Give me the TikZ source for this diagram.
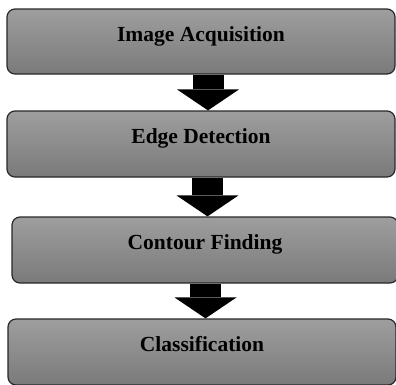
\documentclass[tikz,border=0pt]{standalone}
\usepackage{fontspec}
\setmainfont{Liberation Serif}
\usepackage{xcolor}
\usepackage{tikz}
\usetikzlibrary{arrows.meta, positioning}
\definecolor{boxtop}{RGB}{158, 158, 158}
\definecolor{boxbottom}{RGB}{122, 122, 122}
\definecolor{boxline}{RGB}{40, 40, 40}

\begin{document}
\begin{tikzpicture}[
    x=1pt, y=-1pt,
    stage/.style={rectangle, rounded corners=8pt, draw=boxline, line width=1.2pt, top color=boxtop, bottom color=boxbottom, minimum width=388pt, minimum height=66pt, inner sep=0pt, text height=14pt, text depth=15pt, font=\fontsize{21.5}{24}\selectfont\bfseries},
    blockarrow/.style={line width=31pt, black, -{Triangle[width=62pt, length=21pt, line width=0pt]}}
]
\useasboundingbox (0,0) rectangle (396,384);

% Stages
\node[stage, minimum height=65pt] (acquisition) at (201,41.5) {Image Acquisition};
\node[stage] (edge) at (201,144) {Edge Detection};
\node[stage, minimum width=386pt] (contour) at (205,250) {Contour Finding};
\node[stage] (classification) at (202,352) {Classification};

% Arrows
\draw[blockarrow] ([xshift=7pt]acquisition.south) -- ([xshift=7pt]edge.north);
\draw[blockarrow] ([xshift=6.5pt]edge.south) -- ([xshift=2.5pt]contour.north);
\draw[blockarrow] ([xshift=0.5pt]contour.south) -- ([xshift=3.5pt]classification.north);
\end{tikzpicture}
\end{document}
